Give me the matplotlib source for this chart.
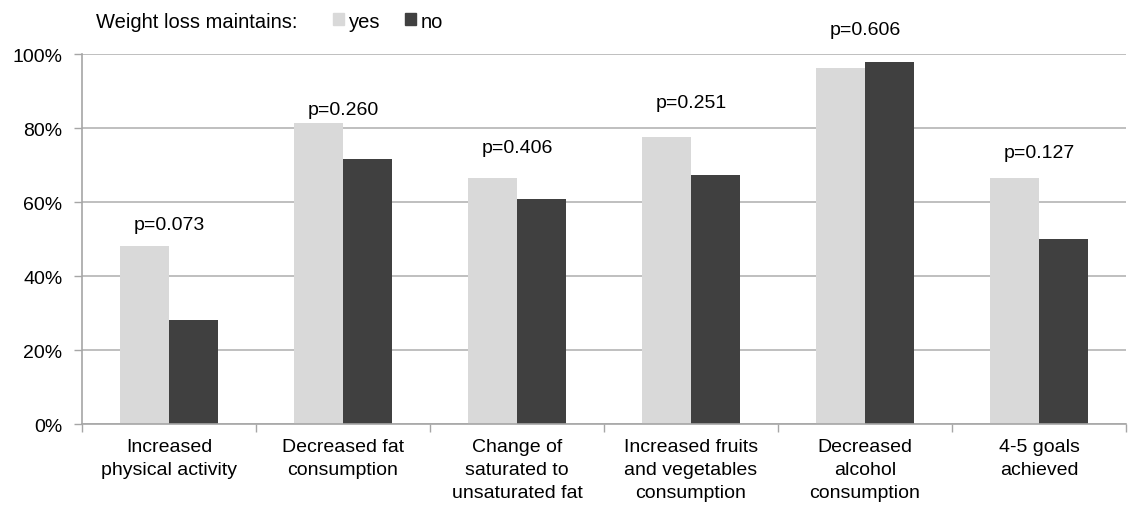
import numpy as np
import matplotlib
matplotlib.use('Agg')
import matplotlib.pyplot as plt
from matplotlib.patches import Patch

# dados
categories = [
    "Increased\nphysical activity",
    "Decreased fat\nconsumption",
    "Change of\nsaturated to\nunsaturated fat",
    "Increased fruits\nand vegetables\nconsumption",
    "Decreased\nalcohol\nconsumption",
    "4-5 goals\nachieved",
]
yes_pct = [48.1, 81.4, 66.6, 77.6, 96.2, 66.6]
no_pct = [28.2, 71.6, 60.9, 67.3, 97.8, 50.0]
p_values = ["p=0.073", "p=0.260", "p=0.406", "p=0.251", "p=0.606", "p=0.127"]
p_label_y = [53.9, 85.2, 74.7, 86.9, 106.8, 73.4]

plt.rcParams['font.family'] = ['Liberation Sans', 'DejaVu Sans']

c_yes = "#D9D9D9"
c_no = "#404040"
c_axis = "#A6A6A6"

fig = plt.figure(figsize=(11.31, 5.06), dpi=100)
ax = fig.add_axes([0.0725, 0.1595, 0.9231, 0.7312])

x = np.arange(len(categories))
w = 0.282
ax.bar(x - w / 2, yes_pct, width=w, color=c_yes, zorder=2)
ax.bar(x + w / 2, no_pct, width=w, color=c_no, zorder=2)

for xi, lab, yl in zip(x, p_values, p_label_y):
    ax.text(xi, yl, lab, ha='center', va='center', fontsize=14, clip_on=False)

ax.set_xlim(-0.5, len(categories) - 0.5)
ax.set_ylim(0, 100)
ax.set_yticks(np.arange(0, 101, 20))
ax.set_yticklabels([f"{v}%" for v in range(0, 101, 20)], fontsize=14)
ax.yaxis.grid(True, color="#B4B4B4", linewidth=1.2)
ax.set_axisbelow(True)

ax.set_xticks(x)
ax.set_xticklabels(categories, fontsize=14, linespacing=1.45)
ax.set_xticks(np.arange(-0.5, len(categories)), minor=True)
ax.tick_params(axis='x', which='major', length=0, pad=10)
ax.tick_params(axis='x', which='minor', length=6, color=c_axis, width=1)
ax.tick_params(axis='y', length=6, color=c_axis, width=1, pad=8)

for s in ['top', 'right']:
    ax.spines[s].set_visible(False)
for s in ['left', 'bottom']:
    ax.spines[s].set_color(c_axis)
    ax.spines[s].set_linewidth(1.2)

# legenda no topo
fig.text(96 / 1131, 1 - 22 / 506, "Weight loss maintains:", fontsize=14.5,
         ha='left', va='center')
handles = [Patch(color=c_yes, label="yes"), Patch(color=c_no, label="no")]
fig.legend(handles=handles, loc='center left', bbox_to_anchor=(333 / 1131, 1 - 22 / 506),
           ncol=2, frameon=False, fontsize=14.5, handlelength=0.55, handleheight=0.55,
           handletextpad=0.25, columnspacing=1.2, borderpad=0, borderaxespad=0)

fig.savefig("out.png", dpi=100)
